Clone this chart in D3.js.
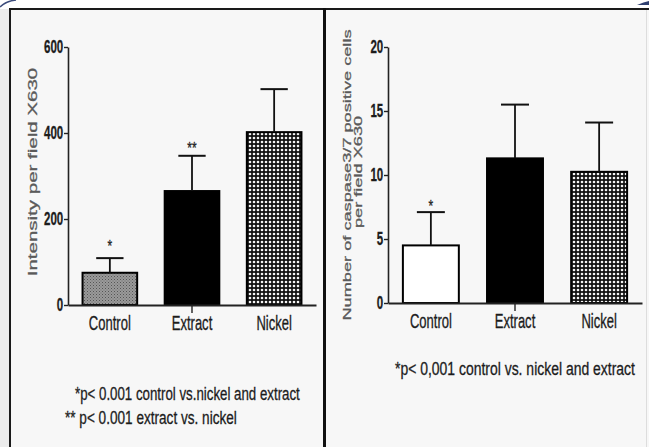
<!DOCTYPE html>
<html>
<head>
<meta charset="utf-8">
<script src="https://cdn.jsdelivr.net/npm/d3@7"></script>
<style>
    body { margin: 0; background: #fff; }
    svg { display: block; font-family: "Liberation Sans", Arial, sans-serif; }
</style>
</head>
<body>
<div id="chart"></div>
<script>
// values
const categories = ["Control", "Extract", "Nickel"];

const intensityMean = [75, 265, 402];
const intensityErr = [34, 82, 100];
const intensityStars = ["*", "**", ""];
const intensityTicks = [0, 200, 400, 600];

const caspaseMean = [4.5, 11.3, 10.25];
const caspaseErr = [2.6, 4.2, 3.85];
const caspaseStars = ["*", "", ""];
const caspaseTicks = [0, 5, 10, 15, 20];

const W = 649, H = 447;

const svg = d3.select("#chart").append("svg")
    .attr("width", W)
    .attr("height", H);

// patterns used for the bar fills
const defs = svg.append("defs");
const grain = defs.append("pattern")
    .attr("id", "grain")
    .attr("patternUnits", "userSpaceOnUse")
    .attr("width", 3).attr("height", 3);
grain.append("rect").attr("width", 3).attr("height", 3).attr("fill", "#9a9a9a");
grain.append("rect").attr("width", 1).attr("height", 1).attr("fill", "#555");
grain.append("rect").attr("x", 1.5).attr("y", 1.5).attr("width", 1).attr("height", 1).attr("fill", "#6a6a6a");

const check = defs.append("pattern")
    .attr("id", "check")
    .attr("patternUnits", "userSpaceOnUse")
    .attr("width", 4).attr("height", 4);
check.append("rect").attr("width", 4).attr("height", 4).attr("fill", "#111");
check.append("circle").attr("cx", 2).attr("cy", 2).attr("r", 1.3).attr("fill", "#f4f4f4");

// frame: two light grey boxes with black rules
svg.append("rect").attr("x", 0).attr("y", 0).attr("width", W).attr("height", H).attr("fill", "#fff");
svg.append("rect").attr("x", 0).attr("y", 9).attr("width", 9).attr("height", H).attr("fill", "#ececec");
svg.append("rect").attr("x", 10).attr("y", 9).attr("width", W - 10).attr("height", H - 9).attr("fill", "#f7f7f7");
svg.append("line").attr("x1", 9).attr("x2", W).attr("y1", 9).attr("y2", 9)
    .attr("stroke", "#1a1a1a").attr("stroke-width", 2);
svg.append("line").attr("x1", 10).attr("x2", 10).attr("y1", 8).attr("y2", H)
    .attr("stroke", "#1a1a1a").attr("stroke-width", 2);
svg.append("line").attr("x1", 324.5).attr("x2", 324.5).attr("y1", 8).attr("y2", H)
    .attr("stroke", "#111").attr("stroke-width", 3);
svg.append("line").attr("x1", 646.5).attr("x2", 646.5).attr("y1", 10).attr("y2", H)
    .attr("stroke", "#ddd").attr("stroke-width", 1);
// little blue scraps in the corners of the scan
svg.append("path").attr("d", "M0,7 Q6,1 16,0").attr("fill", "none")
    .attr("stroke", "#3a4a7a").attr("stroke-width", 1.5);
svg.append("path").attr("d", "M637,5 Q644,2 649,1 L649,5 Z").attr("fill", "#2f3f70");

/** squeezed text helper: the scan is compressed horizontally */
function squeezed(g, x, y, txt, size, sx, opts = {}) {
    const fill = opts.fill || "#1c1c1c";
    const t = g.append("text")
        .attr("text-anchor", opts.anchor || "middle")
        .attr("font-size", size)
        .attr("font-weight", opts.bold ? "bold" : "normal")
        .attr("fill", fill)
        .attr("stroke", fill)
        .attr("stroke-width", opts.heavy || 0.3)
        .text(txt);
    if (opts.width) sx = opts.width / t.node().getComputedTextLength();
    t.attr("transform", `translate(${x},${y}) scale(${sx},1)` + (opts.rotate ? " rotate(-90)" : ""));
    return t;
}

function drawPanel(p) {
    const x = d3.scaleBand()
        .domain(categories)
        .range([p.left, p.right])
        .paddingInner(0.335)
        .paddingOuter(0.177);

    const y = d3.scaleLinear()
        .domain([0, d3.max(p.ticks)])
        .range([p.bottom, p.top]);

    const g = svg.append("g");

    // bars
    g.selectAll(".bar")
        .data(categories)
        .enter().append("rect")
        .attr("class", "bar")
        .attr("x", d => x(d))
        .attr("width", x.bandwidth())
        .attr("y", (d, i) => y(p.mean[i]))
        .attr("height", (d, i) => p.bottom - y(p.mean[i]))
        .attr("fill", (d, i) => p.fills[i])
        .attr("stroke", "#000")
        .attr("stroke-width", 2);

    // upper error bars
    const cap = x.bandwidth() * 0.25;
    const err = g.selectAll(".err")
        .data(categories)
        .enter().append("g")
        .attr("class", "err")
        .attr("transform", d => `translate(${x(d) + x.bandwidth() / 2},0)`);
    err.append("line")
        .attr("y1", (d, i) => y(p.mean[i]))
        .attr("y2", (d, i) => y(p.mean[i] + p.err[i]))
        .attr("stroke", "#111").attr("stroke-width", 1.8);
    err.append("line")
        .attr("x1", -cap).attr("x2", cap)
        .attr("y1", (d, i) => y(p.mean[i] + p.err[i]))
        .attr("y2", (d, i) => y(p.mean[i] + p.err[i]))
        .attr("stroke", "#111").attr("stroke-width", 2);

    // significance stars
    err.each(function (d, i) {
        if (!p.stars[i]) return;
        squeezed(d3.select(this), 0, y(p.mean[i] + p.err[i]) - p.starGap[i], p.stars[i], 17, 0.7);
    });

    // y axis
    const yAxis = d3.axisLeft(y)
        .tickValues(p.ticks)
        .tickSize(4)
        .tickSizeOuter(0);
    const ya = g.append("g")
        .attr("transform", `translate(${p.left},0)`)
        .call(yAxis);
    ya.select(".domain").attr("stroke", "#222").attr("stroke-width", 1.6);
    ya.selectAll(".tick line").attr("stroke", "#222").attr("stroke-width", 1.4);
    ya.selectAll(".tick text")
        .attr("font-family", null)
        .attr("font-size", 18)
        .attr("font-weight", "bold")
        .attr("fill", "#1c1c1c")
        .attr("stroke", "#1c1c1c").attr("stroke-width", 0.3)
        .attr("x", -7.5)
        .attr("transform", "scale(0.64,1)");

    // x axis, labels only, with the single tick under the middle bar
    const xAxis = d3.axisBottom(x)
        .tickSize(0)
        .tickSizeOuter(0);
    const xa = g.append("g")
        .attr("transform", `translate(0,${p.bottom})`)
        .call(xAxis);
    xa.select(".domain").attr("stroke", "#222").attr("stroke-width", 2.2);
    xa.selectAll(".tick text")
        .attr("font-family", null)
        .attr("font-size", 21)
        .attr("fill", "#1c1c1c")
        .attr("stroke", "#1c1c1c").attr("stroke-width", 0.35)
        .attr("y", 25).attr("dy", 0)
        .attr("transform", "scale(0.62,1)");
    xa.append("line")
        .attr("x1", x("Extract") + x.bandwidth() / 2)
        .attr("x2", x("Extract") + x.bandwidth() / 2)
        .attr("y1", 0).attr("y2", 8)
        .attr("stroke", "#222").attr("stroke-width", 1.4);

    // y title
    p.title.forEach(t => {
        squeezed(g, t.x, t.y, t.text, t.size, 0.64, {rotate: true, fill: "#5a5a5a", heavy: 0.45});
    });

    // footnotes, squeezed to the width they take in the scan
    p.notes.forEach(n => {
        squeezed(g, n.x, n.y, n.text, 18.5, 1, {anchor: "start", width: n.w, heavy: 0.3});
    });
}

drawPanel({
    left: 68, right: 316, top: 47, bottom: 305,
    mean: intensityMean, err: intensityErr, stars: intensityStars, ticks: intensityTicks,
    starGap: [6, 2, 0],
    fills: ["url(#grain)", "#000", "url(#check)"],
    title: [{x: 37, y: 172, size: 20.5, text: "Intensity per field X630"}],
    notes: [
        {x: 75, y: 400, w: 225, text: "*p< 0.001 control vs.nickel and extract"},
        {x: 65, y: 424, w: 172, text: "** p< 0.001 extract vs. nickel"}
    ]
});

drawPanel({
    left: 388, right: 642, top: 47, bottom: 303,
    mean: caspaseMean, err: caspaseErr, stars: caspaseStars, ticks: caspaseTicks,
    starGap: [0, 0, 0],
    fills: ["#fff", "#000", "url(#check)"],
    title: [
        {x: 351, y: 175, size: 18.2, text: "Number of caspase3/7 positive cells"},
        {x: 362, y: 172, size: 18.2, text: "per field X630"}
    ],
    notes: [
        {x: 395, y: 375, w: 240, text: "*p< 0,001 control vs. nickel and extract"}
    ]
});
</script>
</body>
</html>
